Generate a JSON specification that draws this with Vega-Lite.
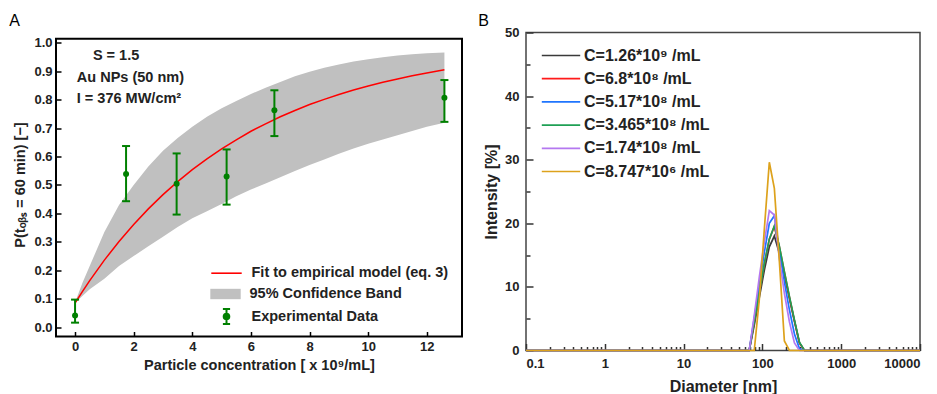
{
  "$schema": "https://vega.github.io/schema/vega-lite/v6.json",
  "background": "white",
  "padding": {"left": 9, "top": 11.5, "right": 0, "bottom": 0},
  "config": {
    "font": "Liberation Sans",
    "axis": {"labelFont": "Liberation Sans", "titleFont": "Liberation Sans", "labelFontWeight": "bold", "titleFontWeight": "bold", "labelColor": "#222", "titleColor": "#222", "grid": false, "domain": false, "tickColor": "#222", "tickWidth": 1.5, "labelOverlap": false},
    "legend": {"labelFont": "Liberation Sans", "labelFontWeight": "bold", "labelColor": "#222"},
    "title": {"font": "Liberation Sans", "fontWeight": "normal", "fontSize": 16, "color": "#000", "anchor": "start", "frame": "group"}
  },
  "datasets": {
    "band": [
      {"x": 0, "lo": 0.085, "hi": 0.087},
      {"x": 0.25, "lo": 0.11, "hi": 0.155},
      {"x": 0.5, "lo": 0.133, "hi": 0.215},
      {"x": 1, "lo": 0.17, "hi": 0.335},
      {"x": 1.5, "lo": 0.215, "hi": 0.43},
      {"x": 2, "lo": 0.25, "hi": 0.5},
      {"x": 2.5, "lo": 0.285, "hi": 0.565},
      {"x": 3, "lo": 0.318, "hi": 0.62},
      {"x": 3.5, "lo": 0.352, "hi": 0.665},
      {"x": 4, "lo": 0.383, "hi": 0.705},
      {"x": 4.5, "lo": 0.408, "hi": 0.74},
      {"x": 5, "lo": 0.433, "hi": 0.77},
      {"x": 5.5, "lo": 0.46, "hi": 0.795},
      {"x": 6, "lo": 0.484, "hi": 0.82},
      {"x": 6.5, "lo": 0.505, "hi": 0.842},
      {"x": 7, "lo": 0.527, "hi": 0.862},
      {"x": 7.5, "lo": 0.549, "hi": 0.882},
      {"x": 8, "lo": 0.57, "hi": 0.898},
      {"x": 8.5, "lo": 0.59, "hi": 0.912},
      {"x": 9, "lo": 0.61, "hi": 0.924},
      {"x": 9.5, "lo": 0.628, "hi": 0.934},
      {"x": 10, "lo": 0.645, "hi": 0.942},
      {"x": 10.5, "lo": 0.66, "hi": 0.949},
      {"x": 11, "lo": 0.675, "hi": 0.955},
      {"x": 11.5, "lo": 0.69, "hi": 0.96},
      {"x": 12, "lo": 0.705, "hi": 0.963},
      {"x": 12.6, "lo": 0.719, "hi": 0.966}
    ],
    "fit": [
      {"x": 0, "p": 0.085}, {"x": 0.25, "p": 0.125}, {"x": 0.5, "p": 0.164}, {"x": 1, "p": 0.236},
      {"x": 1.5, "p": 0.301}, {"x": 2, "p": 0.361}, {"x": 2.5, "p": 0.416}, {"x": 3, "p": 0.466},
      {"x": 3.5, "p": 0.512}, {"x": 4, "p": 0.554}, {"x": 4.5, "p": 0.592}, {"x": 5, "p": 0.627},
      {"x": 5.5, "p": 0.659}, {"x": 6, "p": 0.689}, {"x": 6.5, "p": 0.715}, {"x": 7, "p": 0.74},
      {"x": 7.5, "p": 0.762}, {"x": 8, "p": 0.783}, {"x": 8.5, "p": 0.801}, {"x": 9, "p": 0.818},
      {"x": 9.5, "p": 0.834}, {"x": 10, "p": 0.848}, {"x": 10.5, "p": 0.861}, {"x": 11, "p": 0.873},
      {"x": 11.5, "p": 0.884}, {"x": 12, "p": 0.894}, {"x": 12.6, "p": 0.905}
    ],
    "exp": [
      {"c": 0, "p": 0.041, "lo": 0.016, "hi": 0.097},
      {"c": 1.74, "p": 0.539, "lo": 0.443, "hi": 0.637},
      {"c": 3.465, "p": 0.504, "lo": 0.396, "hi": 0.611},
      {"c": 5.17, "p": 0.53, "lo": 0.431, "hi": 0.625},
      {"c": 6.8, "p": 0.763, "lo": 0.672, "hi": 0.833},
      {"c": 12.6, "p": 0.807, "lo": 0.722, "hi": 0.869}
    ],
    "dls": [
      {"s": "C=1.26*10⁹ /mL", "d": 0.1, "v": 0}, {"s": "C=1.26*10⁹ /mL", "d": 68.06, "v": 0}, {"s": "C=1.26*10⁹ /mL", "d": 78.82, "v": 4.0}, {"s": "C=1.26*10⁹ /mL", "d": 91.28, "v": 8.3}, {"s": "C=1.26*10⁹ /mL", "d": 105.7, "v": 12.6}, {"s": "C=1.26*10⁹ /mL", "d": 122.4, "v": 16.3}, {"s": "C=1.26*10⁹ /mL", "d": 141.8, "v": 18.0}, {"s": "C=1.26*10⁹ /mL", "d": 164.2, "v": 15.3}, {"s": "C=1.26*10⁹ /mL", "d": 190.1, "v": 11.8}, {"s": "C=1.26*10⁹ /mL", "d": 220.2, "v": 8.2}, {"s": "C=1.26*10⁹ /mL", "d": 255.0, "v": 4.6}, {"s": "C=1.26*10⁹ /mL", "d": 295.3, "v": 1.2}, {"s": "C=1.26*10⁹ /mL", "d": 342.0, "v": 0}, {"s": "C=1.26*10⁹ /mL", "d": 10000, "v": 0},
      {"s": "C=6.8*10⁸ /mL", "d": 0.1, "v": 0}, {"s": "C=6.8*10⁸ /mL", "d": 68.06, "v": 0}, {"s": "C=6.8*10⁸ /mL", "d": 78.82, "v": 4.5}, {"s": "C=6.8*10⁸ /mL", "d": 91.28, "v": 9.0}, {"s": "C=6.8*10⁸ /mL", "d": 105.7, "v": 13.6}, {"s": "C=6.8*10⁸ /mL", "d": 122.4, "v": 17.5}, {"s": "C=6.8*10⁸ /mL", "d": 141.8, "v": 19.5}, {"s": "C=6.8*10⁸ /mL", "d": 164.2, "v": 16.3}, {"s": "C=6.8*10⁸ /mL", "d": 190.1, "v": 12.3}, {"s": "C=6.8*10⁸ /mL", "d": 220.2, "v": 8.4}, {"s": "C=6.8*10⁸ /mL", "d": 255.0, "v": 4.7}, {"s": "C=6.8*10⁸ /mL", "d": 295.3, "v": 1.2}, {"s": "C=6.8*10⁸ /mL", "d": 342.0, "v": 0}, {"s": "C=6.8*10⁸ /mL", "d": 10000, "v": 0},
      {"s": "C=5.17*10⁸ /mL", "d": 0.1, "v": 0}, {"s": "C=5.17*10⁸ /mL", "d": 68.06, "v": 0}, {"s": "C=5.17*10⁸ /mL", "d": 78.82, "v": 5.1}, {"s": "C=5.17*10⁸ /mL", "d": 91.28, "v": 10.2}, {"s": "C=5.17*10⁸ /mL", "d": 105.7, "v": 15.4}, {"s": "C=5.17*10⁸ /mL", "d": 122.4, "v": 20.0}, {"s": "C=5.17*10⁸ /mL", "d": 141.8, "v": 21.2}, {"s": "C=5.17*10⁸ /mL", "d": 164.2, "v": 15.8}, {"s": "C=5.17*10⁸ /mL", "d": 190.1, "v": 10.8}, {"s": "C=5.17*10⁸ /mL", "d": 220.2, "v": 6.4}, {"s": "C=5.17*10⁸ /mL", "d": 255.0, "v": 2.6}, {"s": "C=5.17*10⁸ /mL", "d": 295.3, "v": 0.3}, {"s": "C=5.17*10⁸ /mL", "d": 342.0, "v": 0}, {"s": "C=5.17*10⁸ /mL", "d": 10000, "v": 0},
      {"s": "C=3.465*10⁸ /mL", "d": 0.1, "v": 0}, {"s": "C=3.465*10⁸ /mL", "d": 68.06, "v": 0}, {"s": "C=3.465*10⁸ /mL", "d": 78.82, "v": 4.5}, {"s": "C=3.465*10⁸ /mL", "d": 91.28, "v": 9.0}, {"s": "C=3.465*10⁸ /mL", "d": 105.7, "v": 13.6}, {"s": "C=3.465*10⁸ /mL", "d": 122.4, "v": 17.5}, {"s": "C=3.465*10⁸ /mL", "d": 141.8, "v": 19.6}, {"s": "C=3.465*10⁸ /mL", "d": 164.2, "v": 16.4}, {"s": "C=3.465*10⁸ /mL", "d": 190.1, "v": 12.4}, {"s": "C=3.465*10⁸ /mL", "d": 220.2, "v": 8.5}, {"s": "C=3.465*10⁸ /mL", "d": 255.0, "v": 4.8}, {"s": "C=3.465*10⁸ /mL", "d": 295.3, "v": 1.3}, {"s": "C=3.465*10⁸ /mL", "d": 342.0, "v": 0}, {"s": "C=3.465*10⁸ /mL", "d": 10000, "v": 0},
      {"s": "C=1.74*10⁸ /mL", "d": 0.1, "v": 0}, {"s": "C=1.74*10⁸ /mL", "d": 68.06, "v": 0}, {"s": "C=1.74*10⁸ /mL", "d": 78.82, "v": 5.5}, {"s": "C=1.74*10⁸ /mL", "d": 91.28, "v": 11.5}, {"s": "C=1.74*10⁸ /mL", "d": 105.7, "v": 17.0}, {"s": "C=1.74*10⁸ /mL", "d": 122.4, "v": 22.0}, {"s": "C=1.74*10⁸ /mL", "d": 141.8, "v": 21.3}, {"s": "C=1.74*10⁸ /mL", "d": 164.2, "v": 14.5}, {"s": "C=1.74*10⁸ /mL", "d": 190.1, "v": 9.0}, {"s": "C=1.74*10⁸ /mL", "d": 220.2, "v": 4.5}, {"s": "C=1.74*10⁸ /mL", "d": 255.0, "v": 1.2}, {"s": "C=1.74*10⁸ /mL", "d": 295.3, "v": 0}, {"s": "C=1.74*10⁸ /mL", "d": 10000, "v": 0},
      {"s": "C=8.747*10⁶ /mL", "d": 0.1, "v": 0}, {"s": "C=8.747*10⁶ /mL", "d": 78.82, "v": 0}, {"s": "C=8.747*10⁶ /mL", "d": 91.28, "v": 8.0}, {"s": "C=8.747*10⁶ /mL", "d": 105.7, "v": 19.0}, {"s": "C=8.747*10⁶ /mL", "d": 122.4, "v": 29.6}, {"s": "C=8.747*10⁶ /mL", "d": 141.8, "v": 25.5}, {"s": "C=8.747*10⁶ /mL", "d": 164.2, "v": 14.0}, {"s": "C=8.747*10⁶ /mL", "d": 190.1, "v": 1.5}, {"s": "C=8.747*10⁶ /mL", "d": 220.2, "v": 0}, {"s": "C=8.747*10⁶ /mL", "d": 10000, "v": 0}
    ]
  },
  "resolve": {"scale": {"color": "independent"}, "legend": {"color": "independent"}},
  "spacing": 14,
  "hconcat": [
    {
      "width": 406,
      "height": 304,
      "title": {"text": "A", "dx": -46.7, "offset": 3.5},
      "view": {"stroke": null},
      "layer": [
        {
          "data": {"name": "band"},
          "mark": {"type": "area", "opacity": 1},
          "encoding": {
            "x": {"field": "x", "type": "quantitative", "scale": {"domain": [-0.65, 13.2], "nice": false, "zero": false},
              "axis": {"values": [0, 2, 4, 6, 8, 10, 12], "format": "d", "tickSize": -5, "tickColor": "#000", "labelPadding": 9, "labelFontSize": 13, "titleFontSize": 14.5, "titlePadding": 5, "title": "Particle concentration [ x 10⁹/mL]"}},
            "y": {"field": "lo", "type": "quantitative", "scale": {"domain": [-0.0327, 1.0362], "nice": false, "zero": false},
              "axis": {"values": [0, 0.1, 0.2, 0.3, 0.4, 0.5, 0.6, 0.7, 0.8, 0.9, 1.0], "tickCount": 11, "format": ".1f", "labelOverlap": false, "labelSeparation": 0, "tickSize": -5, "tickColor": "#000", "labelPadding": 9, "labelFontSize": 13, "titleFontSize": 14.5, "titlePadding": 6, "title": "P(tₒᵦₛ = 60 min) [−]"}},
            "y2": {"field": "hi"},
            "fill": {"datum": "95% Confidence Band", "type": "nominal",
              "scale": {"range": ["#c0c0c0"]},
              "legend": {"orient": "none", "legendX": 161.5, "legendY": 253.5, "title": null, "padding": 0,
                "symbolType": "M-1.9,-0.65H1.9V0.65H-1.9Z", "symbolSize": 256, "symbolStrokeColor": "transparent", "symbolStrokeWidth": 0, "symbolOpacity": 1,
                "labelFontSize": 14.5, "labelOffset": 16, "labelLimit": 400}}
          }
        },
        {
          "data": {"name": "fit"},
          "mark": {"type": "line", "strokeWidth": 1.5},
          "encoding": {
            "x": {"field": "x", "type": "quantitative"},
            "y": {"field": "p", "type": "quantitative"},
            "stroke": {"datum": "Fit to empirical model (eq. 3)", "type": "nominal",
              "scale": {"range": ["#ff0000"]},
              "legend": {"orient": "none", "legendX": 161.5, "legendY": 231.7, "title": null, "padding": 0,
                "symbolType": "M-1.9,0H1.9", "symbolSize": 256, "symbolStrokeWidth": 1.6,
                "labelFontSize": 14.5, "labelOffset": 16, "labelLimit": 400}}
          }
        },
        {
          "data": {"name": "exp"},
          "mark": {"type": "rule", "strokeWidth": 2},
          "encoding": {
            "x": {"field": "c", "type": "quantitative"},
            "y": {"field": "lo", "type": "quantitative"},
            "y2": {"field": "hi"},
            "color": {"datum": "Experimental Data", "type": "nominal",
              "scale": {"range": ["#008000"]},
              "legend": {"orient": "none", "legendX": 161.5, "legendY": 275, "title": null, "padding": 0,
                "symbolType": "M0,-0.95V0.95M-0.45,-0.95H0.45M-0.45,0.95H0.45M-0.35,0A0.35,0.35,0,1,1,0.35,0A0.35,0.35,0,1,1,-0.35,0Z",
                "symbolSize": 256, "symbolStrokeWidth": 2, "symbolStrokeColor": "#008000", "symbolFillColor": "#008000", "symbolOpacity": 1,
                "labelFontSize": 14.5, "labelOffset": 16, "labelLimit": 400}}
          }
        },
        {
          "data": {"name": "exp"},
          "mark": {"type": "tick", "orient": "horizontal", "size": 8, "thickness": 2, "opacity": 1},
          "encoding": {
            "x": {"field": "c", "type": "quantitative"},
            "y": {"field": "lo", "type": "quantitative"},
            "color": {"datum": "Experimental Data", "type": "nominal"}
          }
        },
        {
          "data": {"name": "exp"},
          "mark": {"type": "tick", "orient": "horizontal", "size": 8, "thickness": 2, "opacity": 1},
          "encoding": {
            "x": {"field": "c", "type": "quantitative"},
            "y": {"field": "hi", "type": "quantitative"},
            "color": {"datum": "Experimental Data", "type": "nominal"}
          }
        },
        {
          "data": {"name": "exp"},
          "mark": {"type": "point", "filled": true, "size": 36, "opacity": 1},
          "encoding": {
            "x": {"field": "c", "type": "quantitative"},
            "y": {"field": "p", "type": "quantitative"},
            "color": {"datum": "Experimental Data", "type": "nominal"}
          }
        },
        {
          "data": {"values": [{"t": "S = 1.5"}]},
          "mark": {"type": "text", "align": "center", "baseline": "middle", "fontSize": 14.5, "fontWeight": "bold", "color": "#222"},
          "encoding": {"x": {"datum": 1.4, "type": "quantitative"}, "y": {"datum": 0.953, "type": "quantitative"}, "text": {"field": "t"}}
        },
        {
          "data": {"values": [{"t": "Au NPs (50 nm)"}]},
          "mark": {"type": "text", "align": "left", "baseline": "middle", "fontSize": 14.5, "fontWeight": "bold", "color": "#222"},
          "encoding": {"x": {"datum": 0.06, "type": "quantitative"}, "y": {"datum": 0.877, "type": "quantitative"}, "text": {"field": "t"}}
        },
        {
          "data": {"values": [{"t": "I = 376 MW/cm²"}]},
          "mark": {"type": "text", "align": "left", "baseline": "middle", "fontSize": 14.5, "fontWeight": "bold", "color": "#222"},
          "encoding": {"x": {"datum": 0.06, "type": "quantitative"}, "y": {"datum": 0.801, "type": "quantitative"}, "text": {"field": "t"}}
        },
        {
          "data": {"values": [{"frame": "plot"}]},
          "mark": {"type": "rect", "fill": null, "filled": false, "stroke": "#000", "strokeWidth": 2},
          "encoding": {
            "x": {"datum": -0.65, "type": "quantitative"}, "x2": {"datum": 13.2},
            "y": {"datum": -0.0327, "type": "quantitative"}, "y2": {"datum": 1.014}
          }
        }
      ]
    },
    {
      "width": 394,
      "height": 318,
      "title": {"text": "B", "dx": -47.7, "offset": -2},
      "view": {"stroke": "#444", "strokeWidth": 1.5},
      "layer": [
        {
          "data": {"name": "dls"},
          "mark": {"type": "line", "strokeWidth": 1.7},
          "encoding": {
            "x": {"field": "d", "type": "quantitative", "scale": {"type": "log", "domain": [0.1, 10000], "nice": false},
              "axis": {"values": [0.1, 1, 10, 100, 1000, 10000], "format": "~g", "tickSize": -7, "tickColor": "#333", "labelPadding": 14, "labelFontSize": 13, "titleFontSize": 16, "titlePadding": 8, "title": "Diameter [nm]", "orient": "bottom"}},
            "y": {"field": "v", "type": "quantitative", "scale": {"domain": [0, 50], "nice": false, "zero": true},
              "axis": {"values": [0, 10, 20, 30, 40, 50], "tickCount": 6, "tickSize": -7, "tickColor": "#333", "labelPadding": 14, "labelFontSize": 13, "titleFontSize": 16, "titlePadding": 5, "title": "Intensity [%]", "orient": "left"}},
            "color": {"field": "s", "type": "nominal",
              "scale": {"domain": ["C=1.26*10⁹ /mL", "C=6.8*10⁸ /mL", "C=5.17*10⁸ /mL", "C=3.465*10⁸ /mL", "C=1.74*10⁸ /mL", "C=8.747*10⁶ /mL"],
                        "range": ["#3a3a3a", "#ff1a1a", "#1f75fe", "#1fa055", "#b478f0", "#dda21c"]},
              "legend": {"orient": "none", "legendX": 26, "legendY": 14, "title": null, "padding": 0, "symbolType": "M-2.4,0H2.4", "symbolSize": 256, "symbolStrokeWidth": 1.7, "labelFontSize": 16, "labelOffset": 14, "rowPadding": 6.2, "labelLimit": 400}}
          }
        },
        {
          "data": {"name": "dls"},
          "mark": {"type": "point", "opacity": 0},
          "encoding": {
            "x": {"field": "d", "type": "quantitative",
              "axis": {"values": [0.2, 0.3, 0.4, 0.5, 0.6, 0.7, 0.8, 0.9, 2, 3, 4, 5, 6, 7, 8, 9, 20, 30, 40, 50, 60, 70, 80, 90, 200, 300, 400, 500, 600, 700, 800, 900, 2000, 3000, 4000, 5000, 6000, 7000, 8000, 9000], "labels": false, "tickSize": -4, "tickColor": "#333", "title": null, "orient": "bottom"}},
            "y": {"field": "v", "type": "quantitative",
              "axis": {"values": [5, 15, 25, 35, 45], "labels": false, "tickSize": -4, "tickColor": "#333", "title": null, "orient": "left"}}
          }
        }
      ],
      "resolve": {"axis": {"x": "independent", "y": "independent"}}
    }
  ]
}
